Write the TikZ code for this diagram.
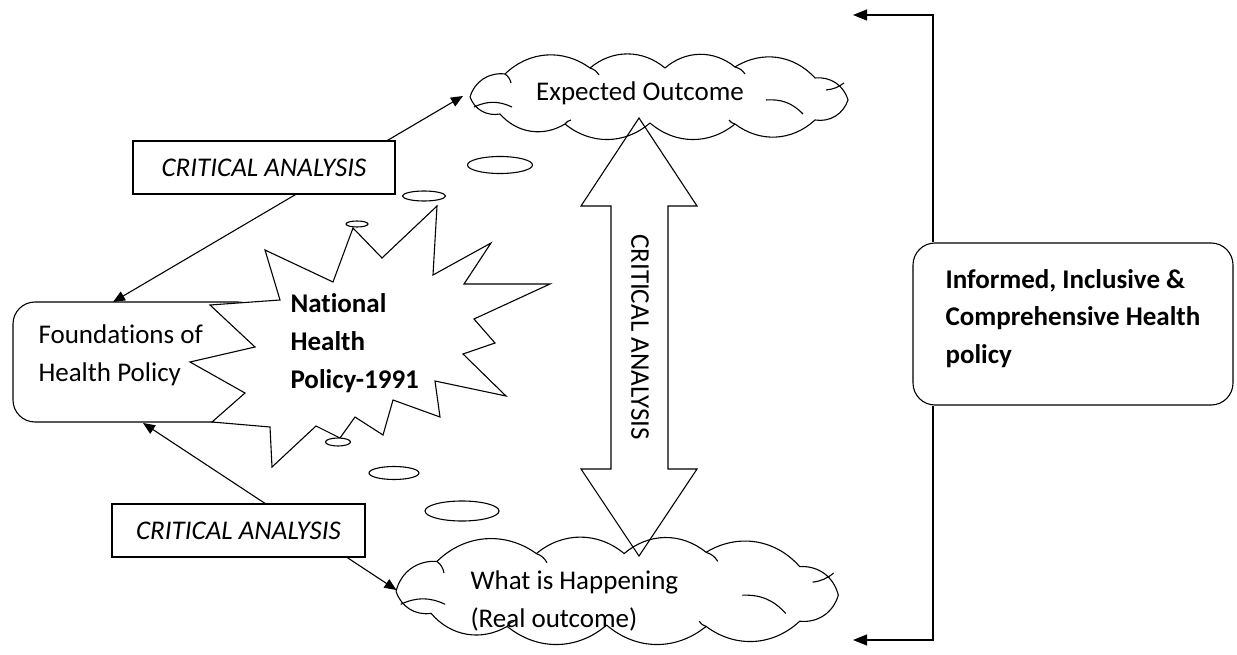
\documentclass[tikz,border=0pt]{standalone}
\usepackage{fontspec}
\setmainfont[Ligatures={NoCommon}]{Carlito}
\usetikzlibrary{shapes.geometric,arrows.meta}
\newcommand\mycloudpath[4]{% centre x, centre y, x scale, y scale
  \draw[line join=round]
    ({#1-188*#3},{#2+1*#4})
    to[bend left=40] ({#1-153*#3},{#2-22*#4})
    to[bend left=40] ({#1-68*#3},{#2-28*#4})
    to[bend left=40] ({#1+7*#3},{#2-28*#4})
    to[bend left=40] ({#1+77*#3},{#2-29*#4})
    to[bend left=40] ({#1+157*#3},{#2-18*#4})
    to[bend left=40] ({#1+190*#3},{#2+4*#4})
    to[bend left=40] ({#1+157*#3},{#2+24*#4})
    to[bend left=40] ({#1+77*#3},{#2+28*#4})
    to[bend left=40] ({#1-8*#3},{#2+27*#4})
    to[bend left=40] ({#1-93*#3},{#2+28*#4})
    to[bend left=40] ({#1-158*#3},{#2+18*#4})
    to[bend left=40] ({#1-188*#3},{#2+1*#4});
  % inner arcs of the overlapping puffs
  \draw ({#1-184*#3},{#2+11*#4}) to[bend left=25] ({#1-146*#3},{#2+11*#4});
  \draw ({#1+108*#3},{#2+4*#4}) to[bend left=25] ({#1+145*#3},{#2+18*#4});
  \draw ({#1+186*#3},{#2-13*#4}) to[bend left=15] ({#1+168*#3},{#2-6*#4});
  \draw ({#1-153*#3},{#2-22*#4}) to[bend left=20] ({#1-147*#3},{#2-13*#4});
  \draw ({#1-68*#3},{#2-28*#4}) to[bend left=20] ({#1-59*#3},{#2-21*#4});
  \draw ({#1+77*#3},{#2-29*#4}) to[bend left=20] ({#1+87*#3},{#2-22*#4});
  \draw ({#1-93*#3},{#2+28*#4}) to[bend left=20] ({#1-87*#3},{#2+24*#4});
  \draw ({#1+77*#3},{#2+28*#4}) to[bend left=20] ({#1+71*#3},{#2+24*#4});}
\begin{document}
\begin{tikzpicture}[x=1pt,y=-1pt, line width=1.1pt,
  txt/.style={font=\fontsize{27}{37.5}\selectfont, inner sep=0pt},
  rbox/.style={draw, rounded corners=22pt, fill=white, inner sep=0pt},
  cabox/.style={draw, fill=white, inner sep=0pt, minimum height=53pt, font=\fontsize{27}{37.5}\selectfont\itshape},
  tri/.style={-{Triangle[length=14pt,width=11pt]}},
  dtri/.style={{Triangle[length=12pt,width=10pt]}-{Triangle[length=12pt,width=10pt]}},
  bubble/.style={ellipse, draw, fill=white, inner sep=0pt},
  cloudarea/.style={inner sep=0pt}
]
\useasboundingbox (0,0) rectangle (1237,655);

% Foundations box (partly hidden by the starburst)
\node[rbox, minimum width=247pt, minimum height=120pt] (found) at (136.5,362) {};
\node[txt, align=left, anchor=west] (foundtxt) at (38,355.5) {Foundations of\\Health Policy};

% starburst
\draw[fill=white, line join=miter] (265,250) -- (333,282) -- (353,228) -- (382,258) -- (437,206)
  -- (433,275) -- (491,243) -- (464,284) -- (550,284) -- (474,319) -- (495,343)
  -- (463,354) -- (506,396) -- (435,381) -- (440,417) -- (393,400) -- (383,435)
  -- (355,417) -- (340,438) -- (316,426) -- (272,467) -- (270,427) -- (212,422)
  -- (245,393) -- (190,362) -- (255,347) -- (210,305) -- (280,300) -- cycle;
\node[txt, font=\fontsize{27}{38}\selectfont\bfseries, align=left, anchor=west] (nhp) at (290,343) {National\\Health\\Policy-1991};

% bubbles
\node[bubble, minimum width=65pt, minimum height=17pt] (b1) at (500,165) {};
\node[bubble, minimum width=43pt, minimum height=10pt] (b2) at (424,196) {};
\node[bubble, minimum width=22pt, minimum height=6pt] (b3) at (357,224) {};
\node[bubble, minimum width=25pt, minimum height=8pt] (b4) at (338,442) {};
\node[bubble, minimum width=50pt, minimum height=13pt] (b5) at (394,473) {};
\node[bubble, minimum width=74pt, minimum height=20pt] (b6) at (462,511) {};

% cloud areas (anchors for the connectors)
\node[cloudarea, minimum width=389pt, minimum height=83pt] (topc) at (658,96) {};
\node[cloudarea, minimum width=438pt, minimum height=108pt] (botc) at (616,590) {};

% critical analysis links
\coordinate (ft) at (113,302);
\coordinate (fb) at (143,423);
\draw[dtri] (ft) -- (topc.west);
\draw[dtri] (fb) -- (botc.west);
\node[cabox, minimum width=262pt] (ca1) at (264,167.5) {CRITICAL ANALYSIS};
\node[cabox, minimum width=253pt] (ca2) at (238.5,530.5) {CRITICAL ANALYSIS};

% double block arrow
\draw[fill=white, line join=miter] (639,118) -- (697,206) -- (668,206) -- (668,469) -- (697,469)
  -- (639,556) -- (581,469) -- (611,469) -- (611,206) -- (581,206) -- cycle;
\node[txt, rotate=-90] (ca3) at (640,337) {CRITICAL ANALYSIS};

% clouds
\mycloudpath{658}{96}{1}{1}
\mycloudpath{616}{590}{1.17}{1.3}
\node[txt] (exp) at (640,93) {Expected Outcome};
\node[txt, align=left, anchor=west] (what) at (470,601) {What is Happening\\(Real outcome)};

% informed box and bracket
\node[rbox, minimum width=320pt, minimum height=162pt] (info) at (1073,324) {};
\node[txt, font=\fontsize{27}{37.5}\selectfont\bfseries, align=left, anchor=west] (infotxt) at (945,318.5) {Informed, Inclusive \&\\Comprehensive Health\\policy};
\coordinate (vx) at (933,0);
\coordinate (tr) at (853,15);
\coordinate (br) at (853,640);
\draw[tri] (vx |- info.north) |- (tr);
\draw[tri] (vx |- info.south) |- (br);
\end{tikzpicture}
\end{document}
